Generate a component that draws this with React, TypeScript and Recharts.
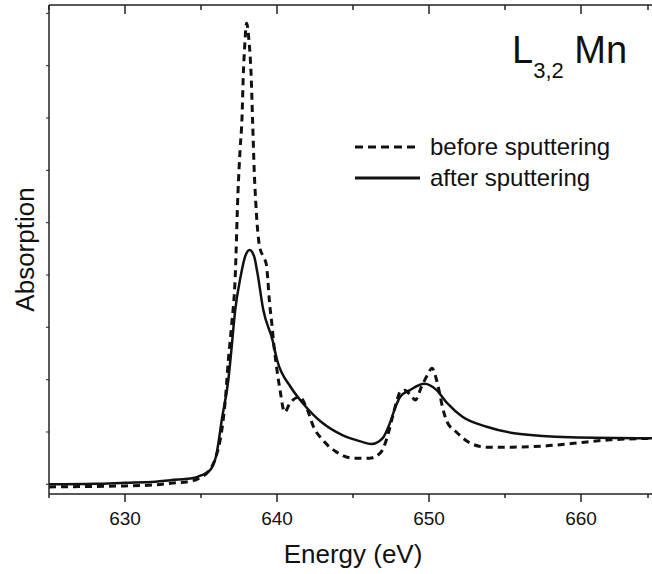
import { LineChart, Line, XAxis, YAxis, Legend } from "recharts";

const FONT = '"Liberation Sans", Arial, sans-serif';

// energies (eV) and absorption (arb. units)
const afterEnergy = [
  625, 628, 630, 632, 633, 634.5, 635, 635.6, 636, 636.4, 636.8, 637, 637.25, 637.6, 637.9,
  638.2, 638.5, 638.7, 639.1, 639.7, 640, 640.9, 641.7, 643, 644.3, 645.5, 646.2, 646.7, 647,
  647.4, 647.8, 648.1, 648.75, 649.7, 650.5, 651.2, 652.2, 653.8, 656, 659.3, 665,
];
const afterAbs = [
  0.0, 0.01, 0.03, 0.05, 0.08, 0.12, 0.17, 0.27, 0.55, 1.29, 2.0, 2.57, 3.33, 3.96, 4.35,
  4.48, 4.35, 4.06, 3.33, 2.76, 2.38, 1.86, 1.55, 1.17, 0.94, 0.82, 0.77, 0.82, 0.9,
  1.15, 1.48, 1.67, 1.8, 1.92, 1.8, 1.55, 1.29, 1.1, 0.96, 0.9, 0.88,
];

const beforeEnergy = [
  625, 628, 630, 632, 633, 634.5, 634.9, 635.5, 635.9, 636.4, 636.6, 636.8, 637, 637.25,
  637.43, 637.57, 637.7, 637.78, 637.88, 638, 638.15, 638.3, 638.4, 638.5, 638.6, 638.7,
  638.85, 639.1, 639.3, 639.4, 639.5, 639.65, 639.8, 640, 640.2, 640.5, 640.85, 641.5, 642,
  642.4, 643, 643.9, 645, 646.1, 646.8, 647.2, 647.6, 647.9, 648.1, 648.4, 648.8, 649.1,
  649.5, 649.9, 650.2, 650.5, 650.7, 650.9, 651.2, 651.8, 652.7, 653.8, 655.3, 657.5, 659.7,
  661.9, 665,
];
const beforeAbs = [
  -0.05, -0.04, -0.03, -0.01, 0.02, 0.07, 0.12, 0.25, 0.46, 1.1, 1.61, 2.38, 3.0, 3.96,
  5.56, 6.39, 7.02, 7.8, 8.4, 8.81, 8.5, 7.8, 6.9, 6.0, 5.4, 4.95,
  4.55, 4.35, 4.2, 3.9, 3.5, 3.1, 2.65, 2.18, 1.8, 1.38, 1.55, 1.67, 1.42,
  1.1, 0.85, 0.62, 0.5, 0.5, 0.6, 0.85, 1.29, 1.61, 1.77, 1.8, 1.7, 1.61,
  1.86, 2.09, 2.22, 1.99, 1.74, 1.46, 1.19, 1.0, 0.79, 0.71, 0.71, 0.73, 0.79,
  0.85, 0.88,
];

const xTicks = [625, 630, 635, 640, 645, 650, 655, 660, 665];
const yTicks = [0, 1, 2, 3, 4, 5, 6, 7, 8, 9];

const afterData = afterEnergy.map((e, i) => ({ energy: e, abs: afterAbs[i] }));
const beforeData = beforeEnergy.map((e, i) => ({ energy: e, abs: beforeAbs[i] }));

function BottomTick(props: any) {
  const { x, y, payload } = props;
  const major = payload.value % 10 === 0;
  return (
    <g>
      <line x1={x} x2={x} y1={y} y2={y + (major ? 8 : 4)} stroke="#222" strokeWidth={1.5} />
      {major && payload.value !== 665 && (
        <text x={x} y={y + 31} textAnchor="middle" fontSize={19} fontFamily={FONT} fill="#111">
          {payload.value}
        </text>
      )}
    </g>
  );
}

function TopTick(props: any) {
  const { x, y, payload } = props;
  const major = payload.value % 10 === 0;
  return <line x1={x} x2={x} y1={y} y2={y + (major ? 9 : 5)} stroke="#222" strokeWidth={1.5} />;
}

function LegendBox() {
  return (
    <svg width={300} height={200} style={{ overflow: "visible", display: "block" }}>
      <text x={162} y={63} fontSize={38} fontFamily={FONT} fill="#111">
        L
        <tspan fontSize={22} dy={15}>3,2</tspan>
        <tspan fontSize={38} dy={-15}> Mn</tspan>
      </text>
      <line x1={5} x2={70} y1={147} y2={147} stroke="#111" strokeWidth={3} strokeDasharray="8 5" />
      <text x={80} y={155} fontSize={24} fontFamily={FONT} fill="#111">before sputtering</text>
      <line x1={5} x2={70} y1={178} y2={178} stroke="#111" strokeWidth={3} />
      <text x={80} y={186} fontSize={24} fontFamily={FONT} fill="#111">after sputtering</text>
    </svg>
  );
}

export default function App() {
  return (
    <div
      style={{
        position: "absolute",
        left: 0,
        top: 0,
        width: 652,
        height: 574,
        overflow: "hidden",
        background: "#fff",
      }}
    >
      <LineChart width={660} height={574} margin={{ top: 4, right: 3, left: 0, bottom: 0 }}>
        <XAxis
          xAxisId="bottom"
          dataKey="energy"
          type="number"
          domain={[625, 665]}
          ticks={xTicks}
          allowDataOverflow
          height={80}
          tickLine={false}
          tickSize={0}
          tickMargin={0}
          tick={<BottomTick />}
          axisLine={{ stroke: "#222", strokeWidth: 1.5 }}
          label={{ value: "Energy (eV)", position: "insideBottom", offset: 11, fontSize: 26, fontFamily: FONT, fill: "#111" }}
        />
        <XAxis
          xAxisId="top"
          orientation="top"
          dataKey="energy"
          type="number"
          domain={[625, 665]}
          ticks={xTicks}
          allowDataOverflow
          height={1}
          tickLine={false}
          tickSize={0}
          tickMargin={0}
          tick={<TopTick />}
          axisLine={{ stroke: "#222", strokeWidth: 1.5 }}
        />
        <YAxis
          type="number"
          domain={[-0.185, 9.16]}
          ticks={yTicks}
          allowDataOverflow
          width={49}
          tickSize={3}
          tickFormatter={() => ""}
          tickLine={{ stroke: "#222" }}
          axisLine={{ stroke: "#222", strokeWidth: 1.5 }}
          label={{ value: "Absorption", angle: -90, position: "center", fontSize: 26, fontFamily: FONT, fill: "#111" }}
        />
        <Legend
          layout="horizontal"
          verticalAlign="middle"
          align="center"
          wrapperStyle={{ left: 350, top: 0, width: 300, height: 200 }}
          content={() => <LegendBox />}
        />
        <Line
          xAxisId="top"
          data={afterData}
          dataKey="abs"
          stroke="none"
          dot={false}
          legendType="none"
          isAnimationActive={false}
        />
        <Line
          xAxisId="bottom"
          data={beforeData}
          dataKey="abs"
          type="monotone"
          stroke="#111"
          strokeWidth={3}
          strokeDasharray="7 5"
          dot={false}
          isAnimationActive={false}
        />
        <Line
          xAxisId="bottom"
          data={afterData}
          dataKey="abs"
          type="monotone"
          stroke="#111"
          strokeWidth={2.5}
          dot={false}
          isAnimationActive={false}
        />
      </LineChart>
    </div>
  );
}
